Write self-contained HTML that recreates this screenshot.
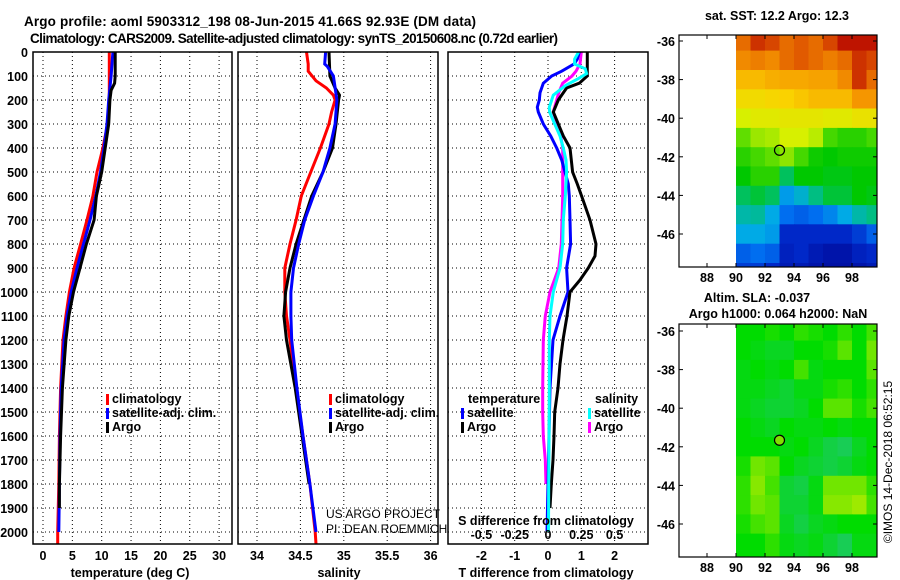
<!DOCTYPE html>
<html><head><meta charset="utf-8"><title>Argo profile</title>
<style>
html,body{margin:0;padding:0;background:#fff;}
svg{display:block;font-family:"Liberation Sans",Arial,sans-serif;}
.b{font-weight:bold;font-size:12.5px;fill:#000;}
.t{font-weight:bold;font-size:13.5px;fill:#000;}
.n{font-size:12px;fill:#000;}
</style></head>
<body>
<svg id="fig" width="900" height="580" viewBox="0 0 900 580" xmlns="http://www.w3.org/2000/svg">
<rect width="900" height="580" fill="#fff"/>
<text class="t" x="250" y="26" text-anchor="middle" textLength="452">Argo profile: aoml 5903312_198 08-Jun-2015 41.66S 92.93E (DM data)</text>
<text class="t" x="30" y="43" textLength="528">Climatology: CARS2009. Satellite-adjusted climatology: synTS_20150608.nc (0.72d earlier)</text>
<g id="layer"></g>
</svg>
<script>
// ---------- data ----------
const depthTicks=[0,100,200,300,400,500,600,700,800,900,1000,1100,1200,1300,1400,1500,1600,1700,1800,1900,2000];
const tempTicks=[0,5,10,15,20,25,30];
const salTicks=[34,34.5,35,35.5,36];
const tdiffTicks=[-2,-1,0,1,2];
const sdiffTicks=[-0.5,-0.25,0,0.25,0.5];
const sdiffLabels=["-0.5","-0.25","0","0.25","0.5"];
const lonTicks=[88,90,92,94,96,98];
const latTicks=[-36,-38,-40,-42,-44,-46];

const tClimDepth=[0,100,200,300,400,500,600,700,800,900,1000,1100,1200,1400,1600,1800,2000,2050];
const tClimVal=[11.3,11.3,11.3,11.0,10.2,9.2,8.5,7.5,6.4,5.3,4.5,3.9,3.4,3.0,2.8,2.7,2.5,2.5];
const tSatDepth=[0,100,200,300,400,500,600,700,800,900,1000,1100,1200,1400,1600,1800,2000];
const tSatVal=[11.9,11.6,11.2,10.9,10.4,9.8,9.0,8.0,6.9,5.8,4.8,4.1,3.6,3.1,2.9,2.8,2.7];
const tArgoDepth=[0,100,130,160,200,300,400,500,600,700,800,900,1000,1100,1200,1400,1600,1800,1900];
const tArgoVal=[12.3,12.3,12.2,11.6,11.4,11.2,10.6,10.0,9.1,8.7,7.4,6.3,5.2,4.4,3.9,3.3,3.0,2.8,2.8];

const sClimDepth=[0,50,80,120,150,180,200,250,300,350,400,500,600,700,800,900,1000,1100,1200,1400,1600,1800,2000,2050];
const sClimVal=[34.57,34.59,34.59,34.68,34.80,34.88,34.90,34.86,34.83,34.78,34.73,34.62,34.51,34.45,34.38,34.32,34.32,34.34,34.38,34.45,34.53,34.61,34.67,34.68];
const sSatDepth=[0,50,60,100,200,300,400,500,600,700,800,900,1000,1100,1200,1400,1600,1800,2000];
const sSatVal=[34.79,34.78,34.81,34.88,34.92,34.90,34.84,34.76,34.65,34.55,34.48,34.42,34.39,34.39,34.40,34.46,34.53,34.61,34.68];
const sArgoDepth=[0,100,150,180,200,300,400,500,600,700,800,900,1000,1100,1200,1400,1600,1800];
const sArgoVal=[34.83,34.84,34.90,34.95,34.94,34.91,34.87,34.76,34.63,34.54,34.45,34.38,34.33,34.31,34.34,34.44,34.52,34.60];

const dTArgoDepth=[0,100,130,150,200,250,300,350,400,500,550,600,700,800,850,900,950,1000,1100,1200,1300,1400,1500,1600,1700,1800,1900];
const dTArgoVal=[1.18,1.18,0.94,0.56,0.31,0.16,0.31,0.46,0.66,0.74,0.88,1.01,1.26,1.44,1.41,1.21,0.96,0.66,0.57,0.45,0.36,0.3,0.2,0.18,0.15,0.1,0.06];
const dTSatDepth=[0,30,50,80,100,130,170,200,230,250,300,350,400,450,500,550,600,700,800,900,1000,1100,1200,1400,1600,1800,2000];
const dTSatVal=[0.94,0.88,0.78,0.41,0.11,-0.14,-0.24,-0.26,-0.32,-0.29,-0.14,0.08,0.26,0.41,0.51,0.61,0.64,0.66,0.68,0.56,0.6,0.36,0.15,0.06,0.03,0.0,-0.03];
const dSArgoDepth=[0,50,80,100,130,170,200,250,300,350,400,500,600,700,800,900,1000,1100,1200,1400,1500,1600,1700,1800];
const dSArgoVal=[0.25,0.24,0.21,0.18,0.11,0.08,0.065,0.04,0.07,0.095,0.11,0.11,0.11,0.105,0.1,0.08,0.015,-0.02,-0.035,-0.04,-0.04,-0.035,-0.02,-0.015];
const dSSatDepth=[0,30,50,70,90,110,140,180,230,250,300,350,400,450,500,600,700,800,900,1000,1100,1200,1400,1600,1800,2000];
const dSSatVal=[0.23,0.2,0.2,0.28,0.29,0.23,0.13,0.04,0.01,0.012,0.05,0.09,0.115,0.135,0.14,0.13,0.115,0.11,0.09,0.04,0.015,0.01,0.01,0.008,0.005,0.004];

const mapLons=[90,91,92,93,94,95,96,97,98,99];
const mapLats=[-36,-37,-38,-39,-40,-41,-42,-43,-44,-45,-46,-47,-48];
const sstGrid=[
[0.85,0.92,0.90,0.85,0.88,0.85,0.90,0.95,0.95,0.95],
[0.80,0.82,0.80,0.85,0.88,0.85,0.82,0.85,0.92,0.90],
[0.72,0.72,0.74,0.75,0.75,0.76,0.76,0.80,0.92,0.85],
[0.66,0.66,0.67,0.68,0.70,0.72,0.72,0.72,0.78,0.78],
[0.60,0.62,0.62,0.63,0.63,0.63,0.62,0.62,0.64,0.64],
[0.52,0.56,0.57,0.60,0.60,0.58,0.50,0.48,0.48,0.50],
[0.48,0.50,0.52,0.55,0.50,0.46,0.45,0.46,0.46,0.46],
[0.45,0.48,0.48,0.40,0.45,0.45,0.44,0.44,0.45,0.45],
[0.40,0.42,0.40,0.28,0.32,0.38,0.42,0.42,0.45,0.44],
[0.35,0.36,0.30,0.22,0.20,0.22,0.25,0.30,0.35,0.38],
[0.30,0.30,0.28,0.12,0.12,0.12,0.12,0.12,0.15,0.20],
[0.20,0.22,0.20,0.10,0.12,0.08,0.06,0.06,0.10,0.12],
[0.15,0.15,0.12,0.08,0.08,0.06,0.05,0.05,0.06,0.08]];
const slaGrid=[
[0.50,0.50,0.55,0.50,0.60,0.55,0.50,0.60,0.50,0.65],
[0.50,0.45,0.40,0.40,0.50,0.50,0.55,0.70,0.50,0.75],
[0.45,0.50,0.45,0.50,0.65,0.45,0.50,0.50,0.50,0.70],
[0.45,0.45,0.40,0.35,0.45,0.45,0.55,0.60,0.50,0.60],
[0.45,0.40,0.35,0.35,0.40,0.50,0.70,0.70,0.55,0.65],
[0.50,0.45,0.40,0.50,0.45,0.45,0.50,0.45,0.50,0.50],
[0.50,0.50,0.50,0.45,0.50,0.40,0.30,0.25,0.40,0.50],
[0.55,0.75,0.70,0.50,0.40,0.35,0.30,0.35,0.45,0.50],
[0.60,0.80,0.65,0.35,0.30,0.45,0.75,0.75,0.75,0.60],
[0.60,0.75,0.70,0.35,0.35,0.45,0.80,0.80,0.85,0.65],
[0.55,0.65,0.70,0.40,0.30,0.40,0.45,0.50,0.50,0.50],
[0.50,0.50,0.60,0.45,0.40,0.45,0.35,0.25,0.45,0.45],
[0.50,0.50,0.60,0.45,0.40,0.45,0.35,0.25,0.45,0.45]];
const floatLon=93.0, floatLat=-41.66;

// ---------- helpers ----------
const NS="http://www.w3.org/2000/svg";
const layer=document.getElementById('layer');
function mk(tag,attrs,parent){const e=document.createElementNS(NS,tag);for(const k in attrs)e.setAttribute(k,attrs[k]);(parent||layer).appendChild(e);return e;}
function txt(s,x,y,cls,anchor,parent){const e=mk('text',{x:x,y:y,class:cls,'text-anchor':anchor||'start'},parent);e.textContent=s;return e;}
const yD=d=>52+d*0.24;
const xTemp=t=>43+t*5.87;
const xSal=s=>257+(s-34)*86.8;
const xTd=t=>548+t*33.3;
const xSd=s=>548+s*133.2;
const xLon=l=>707+(l-88)*14.5;
const yLatTop=la=>41+(-36-la)*19.3;
const yLatBot=la=>331+(-36-la)*19.3;

function panel(name,x0,x1,xs,xticks){
  const g=mk('g',{});
  
  
  depthTicks.forEach(d=>{const l=mk('line',{x1:x0,x2:x1,y1:yD(d),y2:yD(d),stroke:'#000','stroke-width':1,'stroke-dasharray':'1,3'},g);
    });
  xticks.forEach(v=>{const l=mk('line',{x1:xs(v),x2:xs(v),y1:52,y2:544,stroke:'#000','stroke-width':1,'stroke-dasharray':'1,3'},g);
    });
  return g;
}
function frame(name,x0,y0,x1,y1){const r=mk('rect',{x:x0,y:y0,width:x1-x0,height:y1-y0,fill:'none',stroke:'#000','stroke-width':1.5});
  }
function line(name,depths,vals,xs,color,clip){
  const pts=depths.map((d,i)=>xs(vals[i]).toFixed(1)+','+yD(d).toFixed(1)).join(' ');
  const p=mk('polyline',{points:pts,fill:'none',stroke:color,'stroke-width':3,'stroke-linejoin':'miter','clip-path':clip});
  
}
const defs=mk('defs',{});
[['c1',33,232],['c2',238,438],['c3',448,648]].forEach(c=>{const cp=mk('clipPath',{id:c[0]},defs);mk('rect',{x:c[1],y:52,width:c[2]-c[1],height:492},cp);});

// panel 1
panel('temperature-panel-grid',33,232,xTemp,tempTicks);
depthTicks.forEach(d=>{const t=txt(String(d),28,yD(d)+5,'b','end');});
tempTicks.forEach(v=>{const t=txt(String(v),xTemp(v),560,'b','middle');});
line('temp-climatology-line',tClimDepth,tClimVal,xTemp,'#f00','url(#c1)');
line('temp-satellite-line',tSatDepth,tSatVal,xTemp,'#00f','url(#c1)');
line('temp-argo-line',tArgoDepth,tArgoVal,xTemp,'#000','url(#c1)');
frame('temperature-panel-frame',33,52,232,544);
{const t=txt('temperature (deg C)',130,577,'b','middle');}

// panel 2
panel('salinity-panel-grid',238,438,xSal,salTicks);
salTicks.forEach(v=>{const t=txt(String(v),xSal(v),560,'b','middle');});
line('sal-climatology-line',sClimDepth,sClimVal,xSal,'#f00','url(#c2)');
line('sal-argo-line',sArgoDepth,sArgoVal,xSal,'#000','url(#c2)');
line('sal-satellite-line',sSatDepth,sSatVal,xSal,'#00f','url(#c2)');
frame('salinity-panel-frame',238,52,438,544);
{const t=txt('salinity',339,577,'b','middle');}
{const t=txt('US ARGO PROJECT',326,518,'n');
 const t2=txt('PI: DEAN ROEMMICH',326,533,'n');}

// legends
function legend(x,y,color,label,name){
  const r=mk('rect',{x:x,y:y-9,width:3,height:11,fill:color});
  
  const t=txt(label,x+6,y,'b');
}
legend(106,403,'#f00','climatology','legend-entry-temp-climatology');
legend(106,417,'#00f','satellite-adj. clim.','legend-entry-temp-satellite');
legend(106,431,'#000','Argo','legend-entry-temp-argo');
legend(329,403,'#f00','climatology','legend-entry-sal-climatology');
legend(329,417,'#00f','satellite-adj. clim.','legend-entry-sal-satellite');
legend(329,431,'#000','Argo','legend-entry-sal-argo');

// panel 3
panel('difference-panel-grid',448,648,xTd,tdiffTicks);
tdiffTicks.forEach(v=>{const t=txt(String(v),xTd(v),560,'b','middle');});
line('sdiff-argo-line',dSArgoDepth,dSArgoVal,xSd,'#f0f','url(#c3)');
line('tdiff-satellite-line',dTSatDepth,dTSatVal,xTd,'#00f','url(#c3)');
line('tdiff-argo-line',dTArgoDepth,dTArgoVal,xTd,'#000','url(#c3)');
line('sdiff-satellite-line',dSSatDepth,dSSatVal,xSd,'#0ff','url(#c3)');
frame('difference-panel-frame',448,52,648,544);
{const t=txt('T difference from climatology',546,577,'b','middle');}
{const t=txt('S difference from climatology',546,525,'b','middle');}
sdiffTicks.forEach((v,i)=>{const t=txt(sdiffLabels[i],xSd(v),539,'b','middle');});
{const t=txt('temperature',468,403,'b');}
legend(461,417,'#00f','satellite','legend-entry-tdiff-satellite');
legend(461,431,'#000','Argo','legend-entry-tdiff-argo');
{const t=txt('salinity',595,403,'b');}
legend(588,417,'#0ff','satellite','legend-entry-sdiff-satellite');
legend(588,431,'#f0f','Argo','legend-entry-sdiff-argo');

// maps
const sstStops=[[0,[0,0,140]],[0.12,[0,40,200]],[0.22,[0,110,240]],[0.30,[0,170,230]],[0.38,[0,190,130]],[0.45,[0,200,0]],[0.53,[110,225,0]],[0.60,[215,240,0]],[0.68,[250,210,0]],[0.78,[245,150,0]],[0.88,[225,90,0]],[0.95,[190,20,0]],[1,[160,0,0]]];
function sstCol(v){
  for(let i=1;i<sstStops.length;i++){if(v<=sstStops[i][0]){const a=sstStops[i-1],b=sstStops[i];const t=(v-a[0])/(b[0]-a[0]);
    return 'rgb('+a[1].map((x,k)=>Math.round(x+(b[1][k]-x)*t)).join(',')+')';}}
  return 'rgb(160,0,0)';
}
function slaCol(v){const a=[48,190,170],b=[0,220,0],c=[225,240,0];let p,q,t;
  if(v<0.5){p=a;q=b;t=v/0.5;}else{p=b;q=c;t=(v-0.5)/0.5;}
  return 'rgb('+p.map((x,i)=>Math.round(x+(q[i]-x)*t)).join(',')+')';}
function drawMap(name,y0,y1,yLat,grid,cmap,dotFill){
  const g=mk('g',{});
  
  const cpid='cp'+name;const cp=mk('clipPath',{id:cpid},defs);mk('rect',{x:679,y:y0,width:198,height:y1-y0},cp);
  const cells=mk('g',{'clip-path':'url(#'+cpid+')'},g);
  mapLats.forEach((la,r)=>mapLons.forEach((lo,c)=>{
    const xa=xLon(lo),xb=xLon(lo+1),ya=yLat(la+0.5),yb=yLat(la-0.5);
    const cell=mk('rect',{x:xa.toFixed(1),y:ya.toFixed(1),width:(xb-xa+0.6).toFixed(1),height:(yb-ya+0.6).toFixed(1),fill:cmap(grid[r][c])},cells);
    
  }));
  const dot=mk('circle',{cx:xLon(floatLon),cy:yLat(floatLat),r:5,fill:dotFill,stroke:'#000','stroke-width':1.2},g);
  
  mk('rect',{x:679,y:y0,width:198,height:y1-y0,fill:'none',stroke:'#000','stroke-width':1.2},g);
  lonTicks.forEach(lo=>{mk('line',{x1:xLon(lo),x2:xLon(lo),y1:y0,y2:y0+4,stroke:'#000'},g);mk('line',{x1:xLon(lo),x2:xLon(lo),y1:y1,y2:y1-4,stroke:'#000'},g);
    const t=txt(String(lo),xLon(lo),y1+15,'b','middle',g);});
  latTicks.forEach(la=>{mk('line',{x1:679,x2:683,y1:yLat(la),y2:yLat(la),stroke:'#000'},g);mk('line',{x1:877,x2:873,y1:yLat(la),y2:yLat(la),stroke:'#000'},g);
    const t=txt(String(la),675,yLat(la)+5,'b','end',g);});
}
drawMap('sst-map',35,267,yLatTop,sstGrid,sstCol,'none');
drawMap('sla-map',324,557,yLatBot,slaGrid,slaCol,'#80e000');
{const t=txt('sat. SST: 12.2 Argo: 12.3',777,20,'b','middle');}
{const t=txt('Altim. SLA: -0.037',757,302,'b','middle');}
{const t=txt('Argo h1000: 0.064 h2000: NaN',778,318,'b','middle');}
{const t=txt('©IMOS 14-Dec-2018 06:52:15',0,0,'n','middle');t.setAttribute('transform','translate(892,462) rotate(-90)');}
</script>
</body></html>
